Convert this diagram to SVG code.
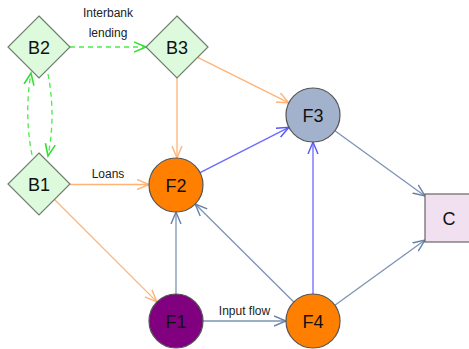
<svg xmlns="http://www.w3.org/2000/svg" width="469" height="349" viewBox="0 0 469 349">
<defs>
<style>
text{font-family:"Liberation Sans",Arial,sans-serif;fill:#111;text-anchor:middle}
.nl{font-size:18px}
.el{font-size:12px;fill:#222}
.dia{fill:#ddfadd;stroke:#6f7f6f;stroke-width:1.2}
.circ{stroke:#555;stroke-width:1.2}
.e{fill:none;stroke-width:1.3}
.og{stroke:#ffb376}
.sb{stroke:#7d93b5}
.bl{stroke:#6a6aff}
.gr{stroke:#44ee44;stroke-dasharray:5,4}
</style>
<marker id="mo" markerUnits="userSpaceOnUse" markerWidth="14" markerHeight="12" refX="12" refY="6" orient="auto" viewBox="0 0 14 12"><path d="M0,1 L12,6 L0,11" fill="none" stroke="#ffb376" stroke-width="1.4"/></marker>
<marker id="ms" markerUnits="userSpaceOnUse" markerWidth="14" markerHeight="12" refX="12" refY="6" orient="auto" viewBox="0 0 14 12"><path d="M0,1 L12,6 L0,11" fill="none" stroke="#6680a8" stroke-width="1.4"/></marker>
<marker id="mb" markerUnits="userSpaceOnUse" markerWidth="14" markerHeight="12" refX="12" refY="6" orient="auto" viewBox="0 0 14 12"><path d="M0,1 L12,6 L0,11" fill="none" stroke="#5555ff" stroke-width="1.4"/></marker>
<marker id="mg" markerUnits="userSpaceOnUse" markerWidth="14" markerHeight="12" refX="12" refY="6" orient="auto" viewBox="0 0 14 12"><path d="M0,1 L12,6 L0,11" fill="none" stroke="#33e033" stroke-width="1.6"/></marker>
</defs>
<rect width="469" height="349" fill="#fff"/>
<g id="connectors">
<path class="e gr" d="M70,47 L146,47" marker-end="url(#mg)"/>
<path class="e gr" d="M32,155 Q24,114 31,73" marker-end="url(#mg)"/>
<path class="e gr" d="M48,74 Q56,115 48,156" marker-end="url(#mg)"/>
<path class="e og" d="M177,78 L177,158" marker-end="url(#mo)"/>
<path class="e og" d="M197.7,57.3 L288.9,102.9" marker-end="url(#mo)"/>
<path class="e og" d="M70,184.5 L149,184.5" marker-end="url(#mo)"/>
<path class="e og" d="M54.5,199.5 L156.9,301.9" marker-end="url(#mo)"/>
<path class="e bl" d="M200.1,172.7 L288.9,127.3" marker-end="url(#mb)"/>
<path class="e sb" d="M176,294 L176,212" marker-end="url(#ms)"/>
<path class="e sb" d="M203,321 L286,321" marker-end="url(#ms)"/>
<path class="e sb" d="M293.8,302 L195.2,204" marker-end="url(#ms)"/>
<path class="e bl" d="M313,294 L313,142" marker-end="url(#mb)"/>
<path class="e sb" d="M334.9,305.2 L425,240" marker-end="url(#ms)"/>
<path class="e sb" d="M334.9,130.8 L425,196" marker-end="url(#ms)"/>
<text class="el" x="108" y="17">Interbank</text>
<text class="el" x="108" y="37">lending</text>
<text class="el" x="108" y="178">Loans</text>
<text class="el" x="244.5" y="315">Input flow</text>
</g>
<g id="B2"><polygon class="dia" points="39,16 70,47 39,78 8,47"/><text class="nl" x="39" y="53.5">B2</text></g>
<g id="B3"><polygon class="dia" points="177,16 208,47 177,78 146,47"/><text class="nl" x="177" y="53.5">B3</text></g>
<g id="B1"><polygon class="dia" points="39,153 70,184 39,215 8,184"/><text class="nl" x="39" y="190.5">B1</text></g>
<g id="F2"><circle class="circ" cx="176" cy="185" r="27" fill="#ff8000"/><text class="nl" x="176" y="191.5">F2</text></g>
<g id="F3"><circle class="circ" cx="313" cy="115" r="27" fill="#a2b2cc"/><text class="nl" x="313" y="121.5">F3</text></g>
<g id="F1"><circle class="circ" cx="176" cy="321" r="27" fill="#800080"/><text class="nl" x="176" y="327.5">F1</text></g>
<g id="F4"><circle class="circ" cx="313" cy="321" r="27" fill="#ff8000"/><text class="nl" x="313" y="327.5">F4</text></g>
<g id="C"><rect x="425" y="194" width="50" height="48" fill="#f0e0f0" stroke="#666" stroke-width="1.2"/><text class="nl" x="449" y="224.5">C</text></g>
</svg>
